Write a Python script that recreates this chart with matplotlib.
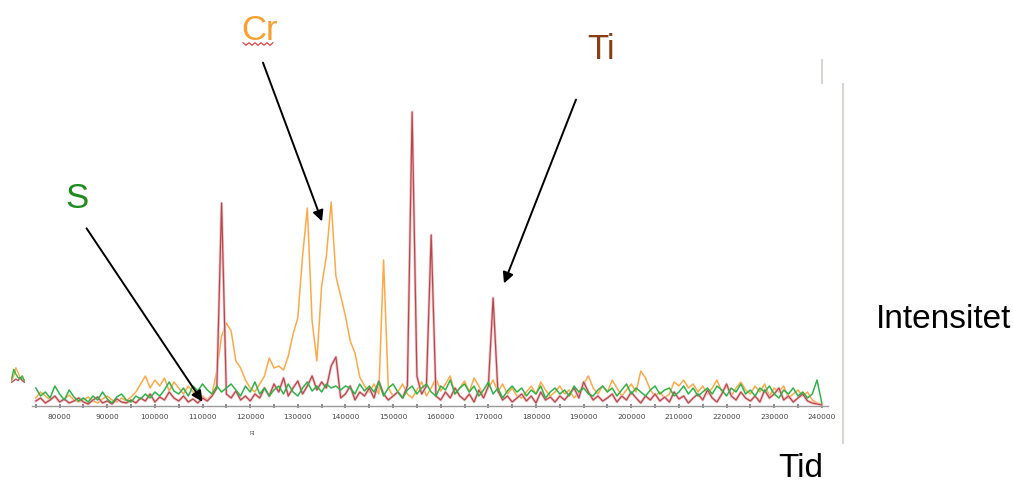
import numpy as np
import matplotlib
matplotlib.use("Agg")
import matplotlib.pyplot as plt
from matplotlib.lines import Line2D
from matplotlib.patches import FancyArrowPatch

W, H = 1013, 484

# retention index axis (step 1000)
ri = list(range(75000, 241000, 1000))

cr = [8, 14, 10, 6, 9, 5, 7, 11, 6, 4,
      6, 9, 5, 3, 7, 10, 6, 4, 8, 5,
      9, 14, 22, 30, 18, 26, 20, 28, 15, 24,
      18, 12, 20, 14, 8, 10, 6, 12, 35, 70,
      83, 75, 45, 38, 26, 18, 14, 22, 30, 48,
      38, 40, 36, 50, 72, 88, 150, 198, 85, 45,
      120, 150, 204, 130, 110, 90, 65, 53, 29, 20,
      14, 22, 12, 146, 18, 10, 14, 22, 12, 8,
      16, 24, 10, 18, 28, 15, 22, 30, 12, 18,
      25, 14, 28, 20, 10, 18, 26, 14, 22, 12,
      18, 10, 8, 14, 20, 12, 24, 16, 10, 14,
      20, 12, 16, 8, 14, 22, 30, 18, 12, 20,
      14, 26, 18, 10, 16, 22, 14, 35, 28, 16,
      10, 14, 8, 12, 24, 20, 26, 18, 22, 14,
      20, 12, 18, 26, 14, 20, 10, 18, 24, 16,
      12, 20, 14, 22, 10, 18, 14, 20, 8, 12,
      16, 10, 14, 6, 3, 2]

ti = [5, 8, 3, 6, 10, 4, 7, 3, 5, 8,
      4, 2, 6, 9, 3, 5, 2, 7, 4, 3,
      6, 3, 8, 5, 12, 4, 9, 6, 14, 8,
      5, 10, 4, 7, 3, 8, 5, 10, 18, 203,
      12, 8, 15, 6, 10, 5, 12, 8, 18, 10,
      22, 14, 28, 10, 18, 25, 12, 20, 30, 16,
      24, 18, 40, 49, 8, 12, 20, 6, 14, 10,
      18, 8, 25, 12, 6, 10, 14, 8, 20, 294,
      30, 12, 20, 171, 10, 6, 14, 8, 18, 10,
      6, 12, 4, 16, 8, 20, 108, 15, 6, 10,
      4, 8, 12, 5, 10, 3, 14, 6, 9, 4,
      10, 6, 12, 18, 8, 24, 14, 6, 10, 5,
      8, 12, 4, 10, 6, 14, 8, 3, 10, 6,
      12, 5, 9, 4, 14, 7, 10, 3, 8, 12,
      6, 16, 8, 4, 12, 22, 10, 6, 14, 8,
      5, 10, 4, 16, 8, 12, 18, 6, 10, 4,
      8, 12, 5, 3, 2, 1]

s = [18, 10, 14, 8, 20, 12, 6, 16, 9, 5,
     8, 4, 10, 6, 14, 7, 3, 9, 12, 6,
     4, 10, 7, 12, 8, 14, 10, 16, 24, 15,
     12, 18, 10, 20, 15, 22, 16, 12, 20, 14,
     18, 22, 16, 10, 20, 14, 24, 12, 18, 10,
     16, 20, 12, 22, 14, 10, 18, 24, 15, 20,
     14, 22, 18, 20, 16, 20, 18, 12, 22, 15,
     20, 14, 24, 10, 18, 22, 14, 8, 16, 20,
     12, 18, 22, 14, 10, 20, 16, 26, 12, 18,
     22, 14, 20, 10, 16, 24, 12, 18, 8, 15,
     20, 14, 18, 10, 16, 12, 20, 8, 14, 18,
     12, 16, 10, 20, 14, 18, 12, 10, 16, 20,
     14, 18, 10, 16, 22, 12, 18, 14, 10, 16,
     20, 12, 16, 18, 10, 14, 20, 12, 18, 10,
     14, 18, 12, 20, 16, 10, 18, 14, 22, 12,
     16, 10, 18, 14, 20, 12, 8, 16, 12, 18,
     10, 14, 8, 12, 26, 3]

tick_vals = list(range(80000, 250000, 10000))
tick_labels = [str(v) for v in tick_vals]

# tiny legend glyph at the left edge
icon_x = [0, 1, 2, 3, 4, 5, 6]
icon_cr = [1, 4, 9, 6, 3, 2, 1]
icon_ti = [0, 1, 2, 1, 3, 1, 0]
icon_s = [2, 8, 5, 3, 2, 4, 1]


def fx(x):
    return x / W


def fy(y):
    return 1 - y / H


fig = plt.figure(figsize=(W / 100, H / 100), dpi=100)
plt.rcParams["font.family"] = ["Liberation Sans", "DejaVu Sans"]

ax = fig.add_axes([fx(32), fy(406), fx(828) - fx(32), fy(85) - fy(406)])
ax.plot(ri, cr, color="#FFA848", lw=1.1, zorder=2)
ax.plot(ri, ti, color="#F0C4C5", lw=2.0, zorder=3)
ax.plot(ri, ti, color="#B8474D", lw=0.9, zorder=4)
ax.plot(ri, s, color="#2DB34A", lw=1.1, zorder=5)

ax.set_xlim(74200, 241300)
ax.set_ylim(0, 321)
for side in ["top", "right", "left"]:
    ax.spines[side].set_visible(False)
ax.spines["bottom"].set_color("#999999")
ax.spines["bottom"].set_linewidth(1.0)
ax.set_yticks([])
ax.set_xticks(tick_vals)
ax.set_xticks(list(range(75000, 241000, 5000)), minor=True)
ax.set_xticklabels(tick_labels, fontsize=5.3, color="#444444", family="DejaVu Sans")
ax.tick_params(axis="x", which="both", direction="inout", length=3, width=1.2,
               color="#777777", pad=4)
ax.set_xlabel("RI", fontsize=4, color="#555555", labelpad=3)
ax.xaxis.set_label_coords((252 - 32) / (828 - 32), -25 / 321)

# legend glyph
iax = fig.add_axes([fx(11), fy(383), fx(14), fy(367) - fy(383)])
iax.plot(icon_x, icon_cr, color="#FFA848", lw=1)
iax.plot(icon_x, icon_ti, color="#C05058", lw=1)
iax.plot(icon_x, icon_s, color="#2DB34A", lw=1)
iax.axis("off")

# decorative frame lines from the slide
fig.add_artist(Line2D([fx(822), fx(822)], [fy(60), fy(83)], color="#D9D5D1", lw=1.5))
fig.add_artist(Line2D([fx(843), fx(843)], [fy(84), fy(443)], color="#D9D5D1", lw=1.5))

# element labels
fig.text(fx(241), fy(40), "Cr", fontsize=25, color="#F7A02E", va="baseline")
fig.text(fx(587), fy(59), "Ti", fontsize=25, color="#8A3C14", va="baseline")
fig.text(fx(65), fy(208), "S", fontsize=25, color="#1E8C1E", va="baseline")
fig.text(fx(876), fy(328), "Intensitet", fontsize=24, color="black", va="baseline")
fig.text(fx(778), fy(477), "Tid", fontsize=24, color="black", va="baseline")

# spell-check squiggle under Cr
wx = np.linspace(243, 273, 11)
wy = 44 + np.where(np.arange(11) % 2 == 0, -1.3, 1.3)
fig.add_artist(Line2D(fx(wx), fy(wy), color="#E03030", lw=0.8))

# arrows
arrows = [((262, 60), (323, 224)), ((577, 97), (503, 286)), ((85, 226), (204, 404))]
for (x0, y0), (x1, y1) in arrows:
    fig.add_artist(FancyArrowPatch((fx(x0), fy(y0)), (fx(x1), fy(y1)),
                                   transform=fig.transFigure, arrowstyle="-|>",
                                   mutation_scale=16, color="black", lw=1.4))

fig.savefig("out.png", dpi=100)
